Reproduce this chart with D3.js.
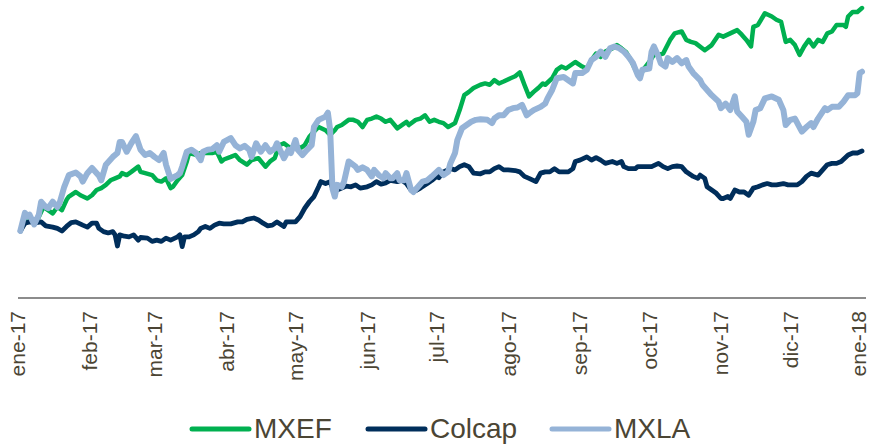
<!DOCTYPE html>
<html>
<head>
<meta charset="utf-8">
<script src="https://cdnjs.cloudflare.com/ajax/libs/d3/7.8.5/d3.min.js"></script>
<style>
  body { margin: 0; background: #fff; }
  svg { display: block; font-family: "Liberation Sans", Arial, sans-serif; }
</style>
</head>
<body>
<div id="chart"></div>
<script>
var width = 871,
    height = 445;

// month labels (Spanish)
var monthNames = ["ene", "feb", "mar", "abr", "may", "jun", "jul", "ago", "sep", "oct", "nov", "dic"];

var seriesNames = ["MXEF", "Colcap", "MXLA"];
var seriesColors = ["#00b050", "#002e5b", "#95b3d7"];
var seriesWidths = [4.5, 4.8, 6];

// [day of 2017, % change since start]
var mxef = [[1,0],[3,1.4],[5,1.7],[8,1.4],[11,3.7],[13,3.2],[15,2.7],[17,3.7],[19,3.2],[21,4.8],[22,5.3],[25,6.0],[27,5.5],[30,5.0],[32,5.5],[34,6.3],[36,6.6],[38,7.1],[40,7.8],[42,8.1],[44,8.4],[45,8.9],[47,8.6],[49,9.1],[52,9.9],[53,9.1],[55,8.9],[58,8.6],[60,7.8],[62,7.6],[64,8.1],[66,6.6],[67,6.8],[69,7.8],[71,8.6],[73,10.7],[74,12.0],[77,11.7],[79,12.0],[82,12.0],[84,12.0],[86,12.2],[88,10.7],[89,11.0],[92,11.4],[94,11.7],[96,10.9],[99,10.2],[101,10.9],[104,11.2],[107,9.9],[109,10.7],[111,11.2],[113,13.2],[115,13.5],[118,12.7],[120,13.2],[122,12.7],[124,13.2],[126,14.5],[128,15.3],[130,16.0],[133,15.5],[135,14.8],[137,15.5],[138,16.0],[140,16.3],[143,17.1],[145,17.1],[147,16.8],[149,16.0],[151,17.1],[153,17.3],[155,17.6],[157,17.3],[159,16.8],[161,17.1],[164,15.8],[166,16.3],[168,16.8],[169,16.3],[172,17.1],[174,17.3],[176,17.8],[178,16.8],[180,17.1],[182,16.8],[184,16.6],[186,16.0],[189,16.6],[191,18.6],[193,20.9],[195,21.4],[197,22.0],[200,22.5],[202,22.7],[204,22.5],[206,23.2],[208,22.7],[210,23.0],[213,23.5],[215,23.8],[217,24.4],[219,22.5],[221,20.7],[223,21.4],[225,22.0],[227,22.7],[228,22.5],[231,23.5],[233,24.8],[235,25.3],[237,25.0],[239,25.5],[241,26.0],[244,25.3],[246,25.0],[248,26.3],[250,27.3],[252,26.8],[254,27.6],[257,28.1],[259,28.6],[261,28.1],[263,27.5],[265,26.3],[267,24.8],[269,24.0],[271,25.1],[273,26.0],[275,27.1],[277,27.1],[279,27.3],[282,29.4],[284,30.4],[287,30.7],[289,29.4],[291,29.1],[293,28.9],[297,27.8],[300,28.6],[303,30.2],[305,29.9],[308,30.4],[311,30.9],[313,30.2],[315,29.4],[317,28.4],[318,31.4],[320,31.7],[323,33.5],[326,33.0],[328,32.5],[330,32.2],[332,29.1],[334,29.4],[336,28.6],[338,27.1],[340,28.4],[342,29.4],[344,28.4],[346,29.4],[348,29.1],[350,30.4],[352,30.7],[354,31.7],[357,31.7],[358,31.4],[359,33.0],[361,33.7],[363,33.7],[365,34.3]];

var colcap = [[1,0],[3,1.2],[5,1.4],[8,1.3],[10,1.4],[12,0.8],[15,0.6],[17,0.4],[19,0.0],[21,0.7],[23,1.3],[25,1.4],[28,0.9],[30,0.6],[32,1.2],[34,1.2],[35,0.4],[37,-0.1],[39,-0.3],[41,-0.1],[42,-0.6],[43,-2.3],[44,-0.6],[46,-0.8],[48,-0.9],[50,-0.6],[52,-1.4],[53,-1.0],[56,-1.1],[58,-1.6],[60,-1.4],[62,-1.6],[64,-1.1],[66,-1.4],[69,-0.9],[70,-0.6],[71,-2.4],[72,-0.9],[74,-0.9],[76,-0.6],[78,-0.1],[79,0.4],[81,0.7],[83,0.4],[85,0.9],[87,1.2],[89,1.1],[92,1.1],[95,1.4],[97,1.4],[99,1.8],[102,2.0],[104,1.7],[106,1.2],[108,0.8],[110,0.9],[112,1.4],[115,0.7],[116,1.4],[118,1.4],[120,1.4],[122,2.2],[124,3.5],[126,4.5],[128,5.3],[130,6.8],[131,7.6],[133,7.3],[135,7.6],[136,6.6],[138,6.3],[140,6.6],[142,6.9],[144,6.8],[146,7.1],[148,6.6],[151,6.8],[153,7.1],[155,7.6],[157,7.2],[159,7.4],[161,7.8],[164,7.6],[166,7.8],[168,7.3],[170,6.3],[172,6.2],[174,6.6],[177,7.3],[179,7.8],[181,8.4],[182,8.2],[184,9.1],[187,9.6],[189,9.4],[191,9.9],[193,10.2],[195,9.9],[197,8.9],[200,8.8],[202,9.1],[204,9.1],[206,9.6],[208,9.9],[210,9.4],[212,9.4],[215,9.3],[217,9.1],[219,8.4],[221,8.1],[224,7.6],[226,8.9],[228,9.1],[230,9.1],[232,9.6],[234,9.1],[236,9.1],[238,9.1],[240,9.6],[241,10.7],[243,10.9],[246,11.4],[248,10.9],[250,11.3],[252,10.9],[254,10.4],[257,10.7],[259,10.4],[261,10.7],[262,9.9],[264,9.6],[267,9.6],[268,9.9],[270,9.9],[272,9.9],[274,9.9],[277,10.4],[279,9.9],[281,9.6],[283,9.9],[285,10.0],[287,9.9],[289,9.1],[292,8.4],[294,8.1],[295,8.6],[297,8.1],[298,6.8],[300,6.3],[302,5.8],[304,5.0],[305,5.0],[307,5.3],[308,5.0],[310,6.3],[312,6.0],[314,6.0],[316,5.5],[318,6.6],[320,6.8],[322,7.1],[324,7.3],[326,7.1],[328,7.1],[331,7.3],[333,7.1],[335,7.1],[337,7.1],[339,7.6],[341,8.4],[343,8.9],[346,8.6],[348,9.4],[350,10.2],[352,10.4],[354,10.4],[356,10.7],[359,11.7],[361,12.0],[363,12.0],[365,12.3]];

var mxla = [[1,0],[3,2.8],[4,2.2],[5,2.5],[7,1.0],[9,2.5],[10,4.5],[12,3.7],[13,3.5],[15,4.5],[17,3.7],[18,4.3],[20,6.8],[22,8.6],[25,9.0],[27,8.4],[28,7.6],[30,8.9],[32,9.7],[35,8.5],[36,7.8],[38,10.2],[41,11.4],[43,12.0],[44,13.7],[45,13.7],[47,12.2],[49,13.5],[51,14.6],[53,12.5],[55,11.7],[57,12.0],[59,11.4],[61,10.9],[63,12.0],[64,10.2],[66,8.0],[67,8.2],[69,8.6],[70,8.9],[71,9.9],[73,12.2],[75,12.5],[77,12.0],[79,10.9],[80,12.2],[82,12.5],[84,12.6],[86,13.2],[87,12.2],[89,13.7],[92,14.3],[94,13.2],[96,12.7],[98,13.1],[100,12.5],[101,11.4],[103,13.5],[105,12.2],[107,13.2],[109,12.2],[111,12.7],[112,13.5],[115,11.2],[117,12.5],[118,12.0],[120,14.0],[121,12.5],[123,11.7],[125,12.5],[127,13.2],[128,16.0],[130,17.1],[133,17.6],[134,18.2],[135,15.5],[136,6.5],[137,5.3],[138,7.1],[140,6.8],[141,7.6],[143,10.7],[146,9.9],[147,9.4],[149,9.8],[151,9.4],[153,8.4],[154,9.4],[156,8.6],[158,8.1],[159,8.9],[161,8.1],[162,8.1],[164,8.9],[165,7.8],[167,7.8],[168,8.9],[170,6.3],[171,6.0],[173,6.8],[175,7.6],[177,7.8],[179,8.4],[182,9.4],[184,8.6],[186,9.1],[187,10.4],[189,12.0],[190,14.0],[192,15.8],[194,16.3],[196,16.8],[198,17.1],[200,17.2],[203,17.1],[205,16.6],[206,17.3],[208,17.8],[210,17.8],[212,18.6],[214,18.9],[216,19.0],[218,19.4],[220,17.8],[221,18.1],[223,18.6],[226,19.1],[228,19.6],[229,20.4],[231,21.7],[233,23.5],[236,23.7],[238,23.2],[240,22.7],[241,24.3],[244,24.3],[246,24.8],[248,26.3],[250,26.8],[252,27.6],[254,26.8],[256,28.1],[258,28.4],[260,28.1],[262,27.6],[264,26.8],[266,25.8],[268,24.0],[269,23.5],[270,24.8],[273,25.0],[274,27.6],[275,28.4],[277,26.8],[278,25.8],[280,25.3],[281,26.6],[283,26.0],[285,26.6],[287,25.8],[289,26.3],[290,25.3],[292,24.3],[295,23.2],[296,22.5],[298,21.7],[300,20.9],[303,19.9],[304,18.9],[306,19.6],[308,18.6],[310,20.7],[311,18.4],[313,17.6],[315,16.8],[316,14.8],[318,16.8],[319,18.6],[321,18.9],[323,20.4],[326,20.7],[329,20.2],[331,18.6],[332,16.3],[334,17.1],[336,17.3],[339,15.3],[341,16.0],[343,16.6],[344,16.0],[346,17.3],[349,18.9],[350,18.6],[352,19.1],[355,19.1],[357,19.9],[359,20.9],[362,20.9],[363,21.2],[364,24.3],[365,24.5]];

var seriesData = [mxef, colcap, mxla];

var startDate = new Date(2017, 0, 1),
    endDate = new Date(2018, 0, 1);

var x = d3.scaleTime()
    .domain([startDate, endDate])
    .range([18, 862]);

var y = d3.scaleLinear()
    .domain([-10, 35])
    .range([296, 3.5]);

var svg = d3.select("#chart").append("svg")
    .attr("width", width)
    .attr("height", height);

var line = d3.line()
    .x(function(d) { return x(d3.timeDay.offset(startDate, d[0])); })
    .y(function(d) { return y(d[1]); });

/* x axis */
var xAxis = d3.axisBottom(x)
    .tickValues(d3.timeMonth.range(startDate, d3.timeDay.offset(endDate, 1)))
    .tickSize(0)
    .tickPadding(0)
    .tickFormat(function(d) {
      return monthNames[d.getMonth()] + "-" + String(d.getFullYear()).slice(2);
    });

var gx = svg.append("g")
    .attr("class", "x-axis")
    .attr("transform", "translate(0,298)")
    .call(xAxis);

// axis line runs a little past the last month
gx.select(".domain")
    .attr("d", "M" + x.range()[0] + ",0H866")
    .attr("stroke", "#8c8c8c")
    .attr("stroke-width", 2);

var nTicks = gx.selectAll(".tick text").size();
gx.selectAll(".tick text")
    .attr("y", 0)
    .attr("dy", "0.33em")
    .attr("transform", function(d, i) {
      // keep the last label inside the frame
      var shift = (i == nTicks - 1) ? -3 : 0;
      return "translate(" + shift + ",13) rotate(-90)";
    })
    .attr("text-anchor", "end")
    .attr("fill", "#4b4534")
    .style("font-size", "21px")
    .style("font-family", "'Liberation Sans', Arial, sans-serif");

/* lines */
svg.selectAll(".series")
    .data(seriesData)
    .enter()
    .append("path")
    .attr("class", "series")
    .attr("d", line)
    .attr("fill", "none")
    .attr("stroke", function(d, i) { return seriesColors[i]; })
    .attr("stroke-width", function(d, i) { return seriesWidths[i]; })
    .attr("stroke-linejoin", "round")
    .attr("stroke-linecap", "round");

/* legend */
var legendX = [190, 366, 550];
var legend = svg.selectAll(".legend")
    .data(seriesNames)
    .enter()
    .append("g")
    .attr("class", "legend")
    .attr("transform", function(d, i) { return "translate(" + legendX[i] + ",429)"; });

legend.append("line")
    .attr("x1", 2).attr("x2", 59)
    .attr("stroke", function(d, i) { return seriesColors[i]; })
    .attr("stroke-width", 5)
    .attr("stroke-linecap", "round");

legend.append("text")
    .attr("x", 64)
    .attr("y", 9)
    .attr("fill", "#4b4534")
    .style("font-size", "28px")
    .text(function(d) { return d; });
</script>
</body>
</html>
